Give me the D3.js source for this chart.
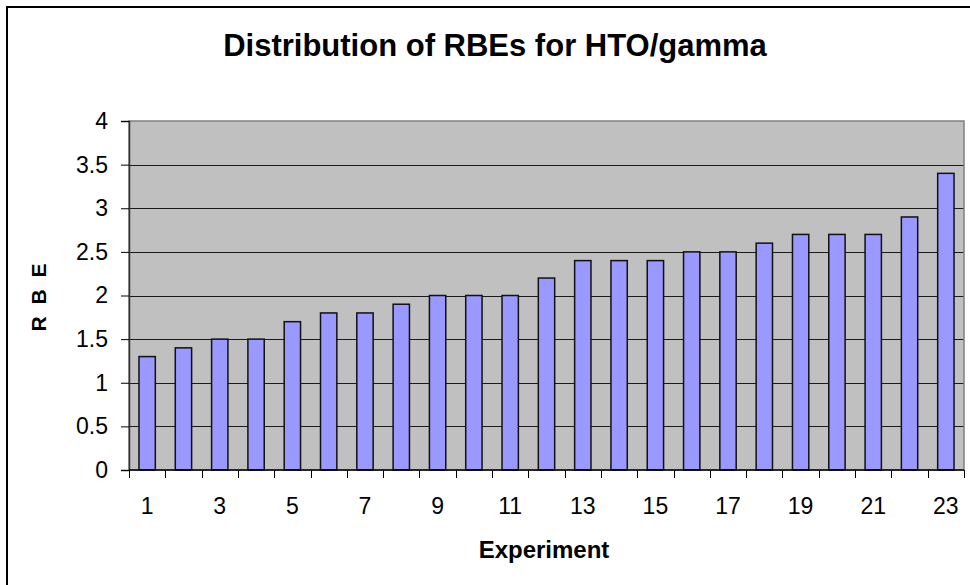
<!DOCTYPE html>
<html>
<head>
<meta charset="utf-8">
<script src="https://cdn.jsdelivr.net/npm/d3@7"></script>
<style>
  html, body { margin: 0; padding: 0; background: #fff; }
  svg { display: block; }
  text { font-family: Arial, "Liberation Sans", sans-serif; fill: #000; }
</style>
</head>
<body>
<svg id="chart" width="970" height="585"></svg>
<script>
const titleText = "Distribution of RBEs for HTO/gamma";
const xAxisTitle = "Experiment";
const yAxisTitle = "R B E";
const experiments = d3.range(1, 24).map(String);
const rbeValues = [1.3, 1.4, 1.5, 1.5, 1.7, 1.8, 1.8, 1.9, 2.0, 2.0, 2.0, 2.2, 2.4, 2.4, 2.4, 2.5, 2.5, 2.6, 2.7, 2.7, 2.7, 2.9, 3.4];
const yTicks = [0, 0.5, 1, 1.5, 2, 2.5, 3, 3.5, 4];
const xLabelTicks = experiments.filter((d, i) => i % 2 === 0);

const svg = d3.select("#chart");
const W = 970, H = 585;
const plot = { left: 129, right: 964, top: 121, bottom: 470 };

// outer chart border
svg.append("rect")
  .attr("x", 7).attr("y", 7).attr("width", W + 20).attr("height", H + 20)
  .attr("fill", "#fff").attr("stroke", "#000").attr("stroke-width", 2);

const x = d3.scaleBand().domain(experiments).range([plot.left, plot.right]).paddingInner(0.55).paddingOuter(0.275);
const xStep = d3.scaleBand().domain(experiments).range([plot.left, plot.right]);
const y = d3.scaleLinear().domain([0, 4]).range([plot.bottom, plot.top]);

// plot background
svg.append("rect")
  .attr("x", plot.left).attr("y", plot.top)
  .attr("width", plot.right - plot.left).attr("height", plot.bottom - plot.top)
  .attr("fill", "#c0c0c0");

// gridlines
svg.append("g").selectAll("line").data(yTicks.filter(d => d > 0 && d < 4)).join("line")
  .attr("x1", plot.left).attr("x2", plot.right)
  .attr("y1", d => Math.round(y(d)) + 0.5).attr("y2", d => Math.round(y(d)) + 0.5)
  .attr("stroke", "#1a1a1a").attr("stroke-width", 1.2);

// plot border
svg.append("rect")
  .attr("x", plot.left).attr("y", plot.top)
  .attr("width", plot.right - plot.left).attr("height", plot.bottom - plot.top)
  .attr("fill", "none").attr("stroke", "#808080").attr("stroke-width", 1.5);

// bars
svg.append("g").selectAll("rect").data(rbeValues).join("rect")
  .attr("x", (d, i) => x(experiments[i]))
  .attr("y", d => y(d))
  .attr("width", x.bandwidth())
  .attr("height", d => y(0) - y(d))
  .attr("fill", "#9999ff")
  .attr("stroke", "#111").attr("stroke-width", 1.5);

// y axis
const yAxis = d3.axisLeft(y).tickValues(yTicks).tickSize(8).tickPadding(13)
  .tickFormat(d => String(d));
const gy = svg.append("g").attr("transform", `translate(${plot.left},0)`).call(yAxis);
gy.select(".domain").attr("stroke", "#333").attr("stroke-width", 1.5);
gy.selectAll(".tick line").attr("stroke", "#000");
gy.selectAll(".tick text").attr("font-size", 23).attr("font-family", "Arial, 'Liberation Sans', sans-serif").attr("fill", "#000");

// x axis: ticks at category boundaries
const xb = svg.append("g");
xb.append("line").attr("x1", plot.left).attr("x2", plot.right)
  .attr("y1", plot.bottom).attr("y2", plot.bottom).attr("stroke", "#000").attr("stroke-width", 1.5);
const boundaries = experiments.map(d => xStep(d)).concat([plot.right]);
xb.selectAll("line.tk").data(boundaries).join("line").attr("class", "tk")
  .attr("x1", d => Math.round(d) + 0.5).attr("x2", d => Math.round(d) + 0.5)
  .attr("y1", plot.bottom).attr("y2", plot.bottom + 8)
  .attr("stroke", "#000").attr("stroke-width", 1);
xb.selectAll("text").data(xLabelTicks).join("text")
  .attr("x", d => xStep(d) + xStep.bandwidth() / 2)
  .attr("y", 514)
  .attr("text-anchor", "middle").attr("font-size", 23)
  .text(d => d);

// titles
svg.append("text").attr("x", 495).attr("y", 56).attr("text-anchor", "middle")
  .attr("font-size", 31).attr("font-weight", "bold").text(titleText);
svg.append("text").attr("x", 544).attr("y", 558).attr("text-anchor", "middle")
  .attr("font-size", 24).attr("font-weight", "bold").text(xAxisTitle);
svg.append("text").attr("transform", "translate(46,296) rotate(-90)")
  .attr("text-anchor", "middle").attr("font-size", 21).attr("font-weight", "bold")
  .attr("letter-spacing", 3).text(yAxisTitle);
</script>
</body>
</html>
